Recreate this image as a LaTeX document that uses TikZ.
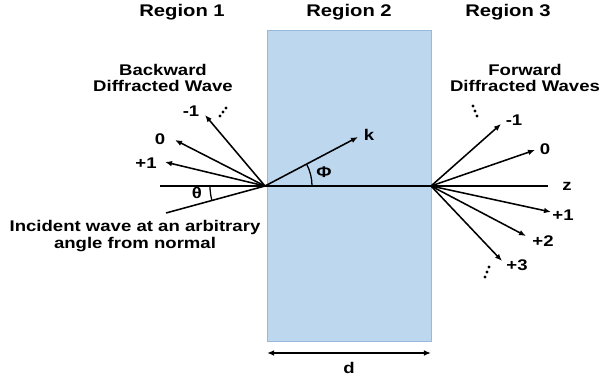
\documentclass[tikz,border=0pt]{standalone}
\usepackage{fontspec}
\setmainfont[FakeStretch=1.2]{Liberation Sans}
\usetikzlibrary{arrows.meta,positioning,calc}

\definecolor{slabfill}{RGB}{189,215,238}
\definecolor{slabline}{RGB}{150,185,220}

\begin{document}
\begin{tikzpicture}[
  x=0.025cm, y=-0.025cm,
  >={Latex[length=5pt,width=4pt]},
  every node/.style={font=\bfseries\fontsize{11}{11.8}\selectfont, inner sep=1pt},
  slab/.style={draw=slabline, fill=slabfill, line width=0.6pt},
  wave/.style={->, line width=1.1pt, black},
  axis/.style={line width=1.6pt, black},
  title/.style={align=center, font=\bfseries\fontsize{12}{14}\selectfont},
  captxt/.style={align=center},
  ord/.style={inner sep=0.5pt},
  dot/.style={fill=black, circle, inner sep=0pt, minimum size=2.2pt}
]
  \useasboundingbox (0,0) rectangle (602,380);

  % the grating slab
  \draw[slab] (267,30) rectangle (431,341);

  % region titles
  \node[title] (r1) at (182,12) {Region 1};
  \node[title] (r2) at (349,12) {Region 2};
  \node[title] (r3) at (508,12) {Region 3};

  % points where the waves meet the faces
  \coordinate (L) at (265,186);
  \coordinate (R) at (431,186);
  \coordinate (zl) at (160,186);
  \coordinate (zr) at (548,186);
  \coordinate (inc) at (166,213);

  % axis and incident wave
  \draw[axis] (zl) -- (zr);
  \draw[line width=1.1pt] (inc) -- (L);
  \node (z) at (567,186) {z};
  \draw[line width=0.9pt] (L) ++(-1.375cm,0) arc[start angle=180, end angle=195.3, radius=1.375cm];
  \node (theta) at (197,193) {θ};
  \node[captxt] (inctxt) at (135,236) {Incident wave at an arbitrary\\angle from normal};

  % backward diffracted orders
  \node[captxt] (bwtxt) at (163,78) {Backward\\Diffracted Wave};
  \coordinate (bm1) at (205,115);
  \coordinate (b0) at (175,140);
  \coordinate (bp1) at (165,162);
  \draw[wave] (L) -- (bm1);
  \draw[wave] (L) -- (b0);
  \draw[wave] (L) -- (bp1);
  \node[ord] (lbm1) at (191,111) {-1};
  \node[ord] (lb0) at (160,139) {0};
  \node[ord] (lbp1) at (146,163) {+1};
  \foreach \p in {(220,116),(223,112),(226,108)}
    \node[dot] at \p {};

  % wave in the slab
  \coordinate (kt) at (358,137);
  \draw[wave] (L) -- (kt);
  \node (k) at (369,135) {k};
  \draw[line width=0.9pt] (L) ++(1.175cm,0) arc[start angle=0, end angle=27.8, radius=1.175cm];
  \node (phi) at (324,172) {Φ};

  % forward diffracted orders
  \node[captxt] (fwtxt) at (525,78) {Forward\\Diffracted Waves};
  \coordinate (fm1) at (501,124);
  \coordinate (f0) at (535,150);
  \coordinate (fp1) at (551,212);
  \coordinate (fp2) at (526,236);
  \coordinate (fp3) at (502,261);
  \draw[wave] (R) -- (fm1);
  \draw[wave] (R) -- (f0);
  \draw[wave] (R) -- (fp1);
  \draw[wave] (R) -- (fp2);
  \draw[wave] (R) -- (fp3);
  \node[ord] (lfm1) at (514,120) {-1};
  \node[ord] (lf0) at (545,149) {0};
  \node[ord] (lfp1) at (563,215) {+1};
  \node[ord] (lfp2) at (543,241) {+2};
  \node[ord] (lfp3) at (517,265) {+3};
  \foreach \p in {(473,106),(475,111),(477,116),(489,267),(487,272),(485,277)}
    \node[dot] at \p {};

  % thickness of the slab
  \coordinate (dl) at (267,353);
  \coordinate (dr) at (431,353);
  \draw[<->, line width=1.1pt] (dl) -- (dr);
  \node (d) at (349,368) {d};
\end{tikzpicture}
\end{document}
